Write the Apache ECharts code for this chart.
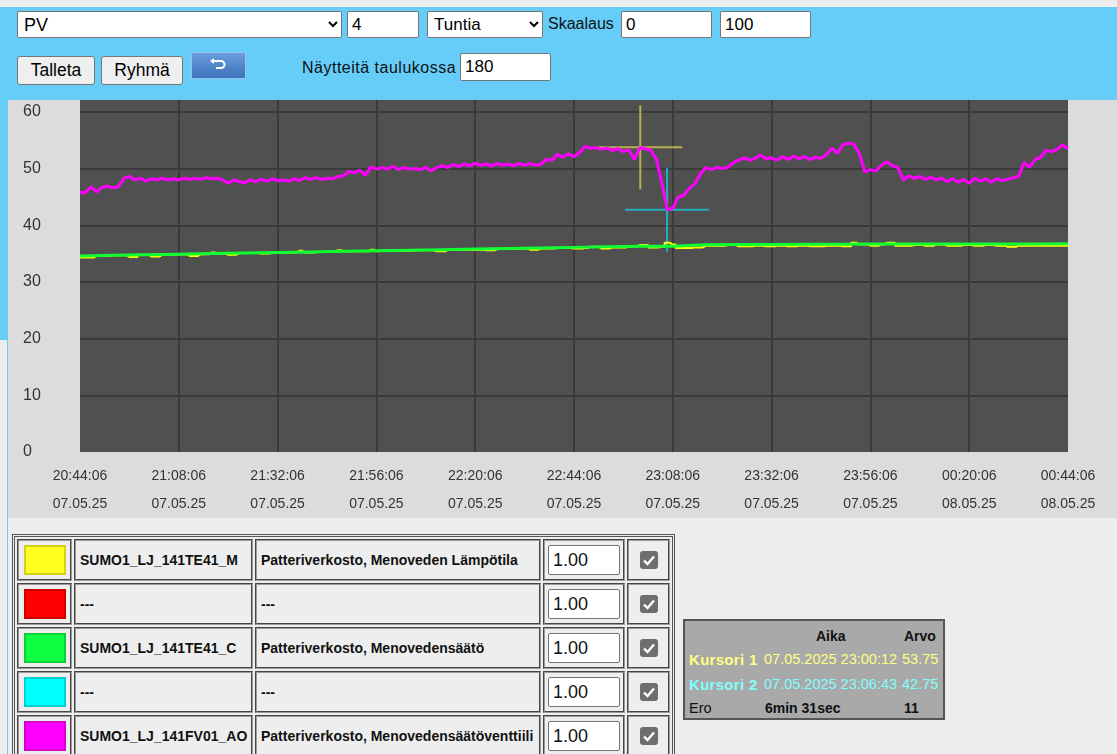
<!DOCTYPE html>
<html>
<head>
<meta charset="utf-8">
<script src="https://cdn.jsdelivr.net/npm/echarts@6/dist/echarts.min.js"></script>
<style>
body { margin: 0; width: 1117px; height: 754px; overflow: hidden; background: #eeeeee; position: relative;
  font-family: Arial, "Liberation Sans", sans-serif; }
#top { position: absolute; left: 0; top: 7px; width: 1117px; height: 93px; background: #66cdf9; }
#side { position: absolute; left: 0; top: 100px; width: 8px; height: 240px; background: #66cdf9; }
#sideline { position: absolute; left: 7px; top: 340px; width: 1px; height: 414px; background: #66cdf9; }
.ctl { position: absolute; box-sizing: border-box; font-family: Arial, "Liberation Sans", sans-serif; font-size: 17px; color: #000; }
input.ctl { border: 1px solid #767676; border-radius: 2px; background: #fff; padding: 0 4px; }
select.ctl { border: 1px solid #767676; border-radius: 2px; background: #fff; padding: 0 2px; font-size: 18px; }
button.ctl { border: 1px solid #767676; border-radius: 3px; background: #efefef; padding: 0; font-size: 17.5px; }
.lbl { position: absolute; font-size: 16px; color: #111; }
#curve { position: absolute; left: 8px; top: 100px; width: 1109px; height: 418px; background: #dcdcdc; }
#tbl { position: absolute; left: 12px; top: 534px; border: 3px double #555; border-collapse: separate; border-spacing: 2px;
  background: #eeeeee; table-layout: fixed; }
#tbl td { border: 2px groove #9a9a9a; height: 38px; padding: 0; font-size: 14px; font-weight: bold; color: #111;
  white-space: nowrap; overflow: hidden; }
.sw { width: 38px; height: 26px; margin: 0 auto; border: 2px solid rgba(0,0,0,0.18); }
#tbl td.nm { padding-left: 4px; }
.fx { width: 72px; height: 30px; box-sizing: border-box; border: 1px solid #767676; border-radius: 2px; background: #fff;
  font-size: 18px; font-weight: normal; padding-left: 4px; line-height: 28px; margin: 0 auto; }
.ck { width: 18px; height: 18px; border-radius: 3px; background: #6e6e6e; margin: 0 auto; position: relative; }
#cur { position: absolute; left: 683px; top: 619px; width: 258px; height: 97px; background: #a9a9a9; border: 2px solid #555;
  font-size: 14px; font-weight: bold; color: #111; }
#cur span { position: absolute; white-space: nowrap; }
#cur span.d { font-size: 14.5px; font-weight: normal; }
#cur span.k { font-size: 15px; letter-spacing: 0.3px; }
</style>
</head>
<body>
<div id="top"></div>
<div id="side"></div>
<div id="sideline"></div>

<select class="ctl" style="left:17px;top:11px;width:325px;height:27px"><option>PV</option></select>
<input class="ctl" style="left:347px;top:11px;width:72px;height:27px" value="4">
<select class="ctl" style="left:427px;top:11px;width:116px;height:27px;font-size:17px"><option>Tuntia</option></select>
<div class="lbl" style="left:548px;top:15px">Skaalaus</div>
<input class="ctl" style="left:621px;top:11px;width:91px;height:27px" value="0">
<input class="ctl" style="left:720px;top:11px;width:91px;height:27px" value="100">

<button class="ctl" style="left:17px;top:56px;width:78px;height:29px">Talleta</button>
<button class="ctl" style="left:101px;top:56px;width:82px;height:29px">Ryhmä</button>
<div style="position:absolute;left:191px;top:52px;width:55px;height:27px;background:linear-gradient(#6a9ddc,#3d72bd);border:1px solid #9cc0ea;box-sizing:border-box">
  <svg width="55" height="27" style="position:absolute;left:-1px;top:-1px">
    <path d="M23 9 H30 A3.5 3.5 0 0 1 30 16 H25" fill="none" stroke="#fff" stroke-width="2"/>
    <path d="M23 6 L19 9 L23 12 Z" fill="#fff"/>
  </svg>
</div>
<div class="lbl" style="left:302px;top:59px;letter-spacing:0.5px">Näytteitä taulukossa</div>
<input class="ctl" style="left:460px;top:53px;width:91px;height:28px" value="180">

<div id="curve"></div>

<table id="tbl">
  <tr><td style="width:51px"><div class="sw" style="background:#ffff20"></div></td><td class="nm" style="width:171px">SUMO1_LJ_141TE41_M</td><td class="nm" style="width:278px">Patteriverkosto, Menoveden Lämpötila</td><td style="width:78px"><div class="fx">1.00</div></td><td style="width:39px"><div class="ck"><svg width="18" height="18"><path d="M4 9.5 L7.5 13 L14 5.5" fill="none" stroke="#fff" stroke-width="2.4"/></svg></div></td></tr>
  <tr><td><div class="sw" style="background:#ff0000"></div></td><td class="nm">---</td><td class="nm">---</td><td><div class="fx">1.00</div></td><td><div class="ck"><svg width="18" height="18"><path d="M4 9.5 L7.5 13 L14 5.5" fill="none" stroke="#fff" stroke-width="2.4"/></svg></div></td></tr>
  <tr><td><div class="sw" style="background:#10ff40"></div></td><td class="nm">SUMO1_LJ_141TE41_C</td><td class="nm">Patteriverkosto, Menovedensäätö</td><td><div class="fx">1.00</div></td><td><div class="ck"><svg width="18" height="18"><path d="M4 9.5 L7.5 13 L14 5.5" fill="none" stroke="#fff" stroke-width="2.4"/></svg></div></td></tr>
  <tr><td><div class="sw" style="background:#00ffff"></div></td><td class="nm">---</td><td class="nm">---</td><td><div class="fx">1.00</div></td><td><div class="ck"><svg width="18" height="18"><path d="M4 9.5 L7.5 13 L14 5.5" fill="none" stroke="#fff" stroke-width="2.4"/></svg></div></td></tr>
  <tr><td><div class="sw" style="background:#ff00ff"></div></td><td class="nm">SUMO1_LJ_141FV01_AO</td><td class="nm">Patteriverkosto, Menovedensäätöventtiili</td><td><div class="fx">1.00</div></td><td><div class="ck"><svg width="18" height="18"><path d="M4 9.5 L7.5 13 L14 5.5" fill="none" stroke="#fff" stroke-width="2.4"/></svg></div></td></tr>
</table>

<div id="cur">
  <span style="left:131px;top:7px">Aika</span>
  <span style="left:219px;top:7px">Arvo</span>
  <span class="k" style="left:4px;top:30px;color:#ffff80">Kursori 1</span>
  <span class="d" style="left:79px;top:30px;color:#ffff80">07.05.2025 23:00:12</span>
  <span class="d" style="left:217px;top:30px;color:#ffff80">53.75</span>
  <span class="k" style="left:4px;top:55px;color:#80ffff">Kursori 2</span>
  <span class="d" style="left:79px;top:55px;color:#80ffff">07.05.2025 23:06:43</span>
  <span class="d" style="left:217px;top:55px;color:#80ffff">42.75</span>
  <span class="d" style="left:4px;top:79px">Ero</span>
  <span style="left:80px;top:79px">6min 31sec</span>
  <span style="left:219px;top:79px">11</span>
</div>

<script>
// x = minutes from 07.05.25 20:44:06, 180 samples over 4 hours
var spanMinutes = 240;
var tickTimes = ['20:44:06', '21:08:06', '21:32:06', '21:56:06', '22:20:06', '22:44:06',
  '23:08:06', '23:32:06', '23:56:06', '00:20:06', '00:44:06'];
var tickDates = ['07.05.25', '07.05.25', '07.05.25', '07.05.25', '07.05.25', '07.05.25',
  '07.05.25', '07.05.25', '07.05.25', '08.05.25', '08.05.25'];

// SUMO1_LJ_141FV01_AO (magenta)
var valveValues = [
  45.8, 45.8, 46.8, 45.9, 46.7, 46.9, 46.6, 46.8, 48.3, 48.6,
  48.0, 48.3, 47.8, 48.2, 48.0, 48.3, 48.0, 48.2, 48.0, 48.3,
  48.1, 48.3, 48.1, 48.4, 48.2, 48.3, 48.0, 47.4, 48.0, 47.7,
  47.5, 48.0, 47.7, 48.1, 47.8, 48.2, 47.9, 48.0, 47.8, 48.2,
  47.9, 48.4, 48.1, 48.4, 48.1, 48.3, 48.2, 48.6, 48.7, 49.5,
  49.3, 49.7, 48.8, 50.3, 49.9, 50.2, 49.9, 50.4, 49.8, 50.2,
  49.9, 50.0, 49.8, 50.2, 49.6, 50.2, 50.5, 50.2, 50.7, 50.4,
  50.8, 50.5, 50.9, 50.6, 50.8, 50.5, 50.9, 50.6, 50.8, 50.5,
  50.9, 50.6, 50.9, 50.6, 50.8, 51.6, 51.5, 52.5, 52.0, 52.6,
  52.1, 52.8, 53.9, 53.6, 53.7, 53.4, 53.6, 53.2, 53.5, 53.0,
  53.3, 51.6, 53.7, 53.5, 53.2, 51.7, 47.5, 42.75, 43.0, 45.0,
  45.3, 46.5, 47.3, 49.0, 50.2, 49.8, 50.2, 50.0, 50.2, 51.0,
  51.5, 51.9, 51.5, 51.8, 52.4, 51.7, 51.9, 51.5, 52.1, 51.6,
  52.2, 51.7, 52.1, 51.6, 52.0, 51.8, 52.5, 53.6, 52.7, 54.2,
  54.5, 54.3, 52.6, 49.4, 49.8, 49.6, 50.6, 51.2, 50.5, 50.2,
  48.0, 48.7, 48.3, 48.6, 48.1, 48.5, 48.0, 48.3, 47.7, 48.2,
  47.6, 48.1, 47.4, 48.3, 47.8, 48.2, 47.6, 48.2, 47.9, 48.1,
  48.4, 48.6, 51.1, 50.2, 51.6, 52.0, 53.2, 53.0, 53.4, 54.2,
  53.5
];

// SUMO1_LJ_141TE41_M (yellow), same sample times
var tempValues = [
  34.3, 34.3, 34.3, 34.6, 34.6, 34.6, 34.7, 34.7, 34.7, 34.4,
  34.4, 34.8, 34.8, 34.5, 34.5, 34.8, 34.8, 34.8, 34.9, 34.9,
  34.6, 34.6, 34.9, 34.9, 35.2, 35.0, 35.0, 34.8, 34.8, 35.1,
  35.1, 35.1, 35.1, 35.0, 35.0, 35.2, 35.2, 35.2, 35.2, 35.2,
  35.5, 35.2, 35.2, 35.3, 35.3, 35.3, 35.3, 35.6, 35.4, 35.4,
  35.4, 35.4, 35.4, 35.7, 35.4, 35.5, 35.5, 35.5, 35.5, 35.5,
  35.5, 35.6, 35.6, 35.6, 35.6, 35.4, 35.4, 35.7, 35.7, 35.7,
  35.7, 35.7, 35.7, 35.7, 35.6, 35.6, 35.8, 35.8, 35.8, 35.8,
  35.9, 35.9, 35.7, 35.7, 35.9, 35.9, 35.9, 36.0, 36.0, 36.0,
  35.9, 35.9, 36.0, 36.2, 36.2, 35.9, 35.9, 36.1, 36.1, 36.1,
  36.2, 36.3, 36.5, 36.5, 36.1, 36.1, 36.2, 36.9, 36.6, 36.0,
  36.0, 36.0, 36.1, 36.1, 36.4, 36.4, 36.4, 36.4, 36.5, 36.5,
  36.3, 36.3, 36.3, 36.4, 36.4, 36.3, 36.3, 36.4, 36.4, 36.3,
  36.3, 36.4, 36.4, 36.3, 36.3, 36.3, 36.4, 36.4, 36.4, 36.3,
  36.3, 36.9, 36.6, 36.6, 36.4, 36.4, 36.6, 36.9, 36.9, 36.4,
  36.4, 36.4, 36.5, 36.5, 36.4, 36.4, 36.6, 36.6, 36.4, 36.4,
  36.4, 36.5, 36.5, 36.4, 36.4, 36.5, 36.5, 36.4, 36.4, 36.2,
  36.2, 36.4, 36.4, 36.4, 36.4, 36.4, 36.4, 36.4, 36.4, 36.4,
  36.4
];

// SUMO1_LJ_141TE41_C (green setpoint), every 8 min
var setTimes = [0, 8, 16, 24, 32, 40, 48, 56, 64, 72, 80, 88, 96, 104, 112, 120,
  128, 136, 144, 152, 160, 168, 176, 184, 192, 200, 208, 216, 224, 232, 240];
var setValues = [34.6, 34.7, 34.8, 34.9, 35.0, 35.1, 35.2, 35.3, 35.4, 35.5, 35.6,
  35.7, 35.8, 35.9, 36.0, 36.1, 36.2, 36.3, 36.3, 36.55, 36.6, 36.6, 36.65, 36.65,
  36.7, 36.7, 36.7, 36.7, 36.7, 36.7, 36.72];

// cursors: 23:00:12 / 53.75 and 23:06:43 / 42.75
var cursorTimes = [136.1, 142.6];
var cursorValues = [53.75, 42.75];
var cursorColors = ['rgba(205,190,80,0.85)', 'rgba(30,185,200,0.9)'];

var step = spanMinutes / (valveValues.length - 1);
function pairs(vals) {
  return vals.map(function (v, i) { return [i * step, v]; });
}

var chartDom = document.getElementById('curve');
var myChart = echarts.init(chartDom);
var option = {
  animation: false,
  grid: {
    left: 72, right: 49, top: 0, bottom: 66,
    show: true, backgroundColor: '#505050', borderWidth: 0
  },
  xAxis: {
    type: 'value',
    min: 0,
    max: spanMinutes,
    interval: 24,
    axisLine: { show: false },
    axisTick: { show: false },
    splitLine: { show: true, showMinLine: false, showMaxLine: false, lineStyle: { color: '#3a3a3a', width: 2 } },
    axisLabel: {
      margin: 10,
      fontSize: 14,
      lineHeight: 28,
      color: '#333333',
      fontFamily: 'Arial, "Liberation Sans", sans-serif',
      formatter: function (v) {
        var k = Math.round(v / 24);
        return tickTimes[k] + '\n' + tickDates[k];
      }
    }
  },
  yAxis: {
    type: 'value',
    min: 0,
    max: 62.1,
    interval: 10,
    axisLine: { show: false },
    axisTick: { show: false },
    splitLine: { show: true, showMinLine: false, showMaxLine: false, lineStyle: { color: '#3a3a3a', width: 2 } },
    axisLabel: {
      showMaxLabel: false,
      align: 'left',
      margin: 57,
      fontSize: 16,
      color: '#333333',
      fontFamily: 'Arial, "Liberation Sans", sans-serif',
      formatter: function (v) { return v % 10 === 0 ? v : ''; }
    }
  },
  series: [
    {
      type: 'line', data: pairs(tempValues), step: 'middle', showSymbol: false,
      lineStyle: { color: '#ffff00', width: 2 }
    },
    {
      type: 'line', data: setTimes.map(function (t, i) { return [t, setValues[i]]; }), showSymbol: false,
      lineStyle: { color: '#10ff30', width: 3 }
    },
    {
      type: 'line', data: pairs(valveValues), showSymbol: false,
      lineStyle: { color: '#ff00ff', width: 3 }
    },
    {
      type: 'custom',
      silent: true,
      data: cursorTimes.map(function (t, i) { return [t, cursorValues[i]]; }),
      renderItem: function (params, api) {
        var p = api.coord([api.value(0), api.value(1)]);
        var c = cursorColors[params.dataIndex];
        return {
          type: 'group',
          children: [
            { type: 'line', shape: { x1: p[0], y1: p[1] - 42, x2: p[0], y2: p[1] + 42 }, style: { stroke: c, lineWidth: 2 } },
            { type: 'line', shape: { x1: p[0] - 42, y1: p[1], x2: p[0] + 42, y2: p[1] }, style: { stroke: c, lineWidth: 2 } }
          ]
        };
      }
    }
  ]
};
option && myChart.setOption(option);
</script>
</body>
</html>
